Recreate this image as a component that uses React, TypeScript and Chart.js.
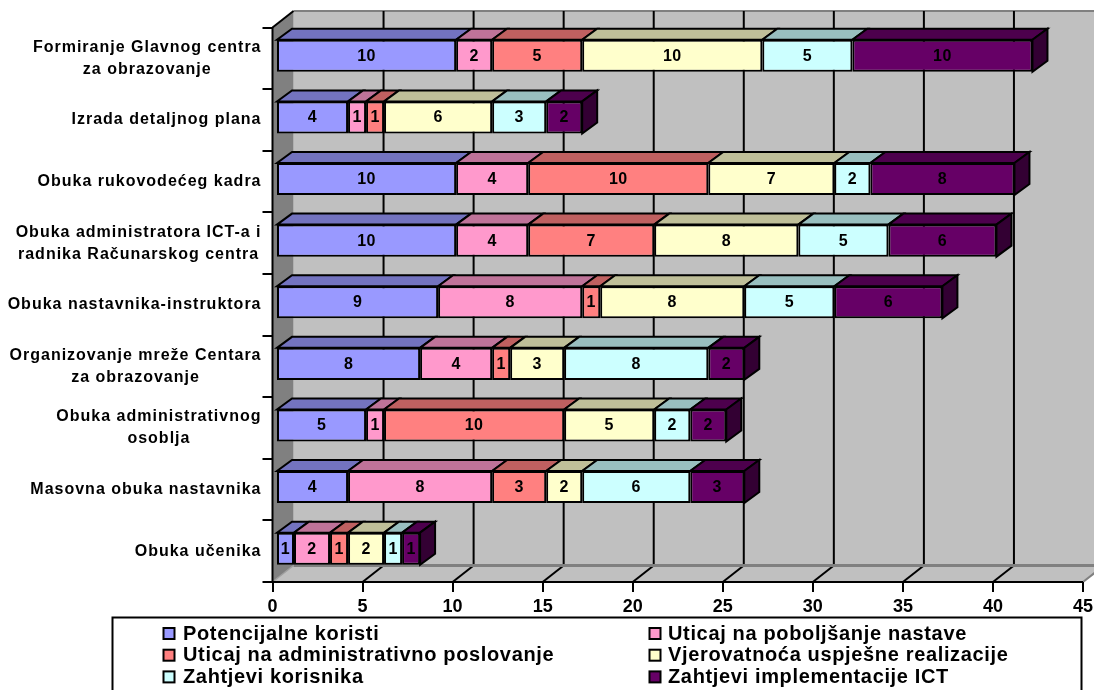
import React, { useEffect, useRef } from "react";
import { Chart, registerables } from "chart.js";

Chart.register(...registerables);

const categories: string[][] = [
  ["Formiranje Glavnog centra", "za obrazovanje"],
  ["Izrada detaljnog plana"],
  ["Obuka rukovodećeg kadra"],
  ["Obuka administratora ICT-a i", "radnika Računarskog centra"],
  ["Obuka nastavnika-instruktora"],
  ["Organizovanje mreže Centara", "za obrazovanje"],
  ["Obuka administrativnog", "osoblja"],
  ["Masovna obuka nastavnika"],
  ["Obuka učenika"],
];

const potencijalneKoristi = [10, 4, 10, 10, 9, 8, 5, 4, 1];
const uticajNaNastavu = [2, 1, 4, 4, 8, 4, 1, 8, 2];
const uticajNaPoslovanje = [5, 1, 10, 7, 1, 1, 10, 3, 1];
const vjerovatnoca = [10, 6, 7, 8, 8, 3, 5, 2, 2];
const zahtjeviKorisnika = [5, 3, 2, 5, 5, 8, 2, 6, 1];
const zahtjeviICT = [10, 2, 8, 6, 6, 2, 2, 3, 1];

const seriesNames = [
  "Potencijalne koristi",
  "Uticaj na poboljšanje nastave",
  "Uticaj na administrativno poslovanje",
  "Vjerovatnoća uspješne realizacije",
  "Zahtjevi korisnika",
  "Zahtjevi implementacije ICT",
];
const seriesValues = [potencijalneKoristi, uticajNaNastavu, uticajNaPoslovanje, vjerovatnoca, zahtjeviKorisnika, zahtjeviICT];
const seriesColors = ["#9999FF", "#FF99CC", "#FF8080", "#FFFFCC", "#CCFFFF", "#660066"];
const topColors = ["#7373BF", "#BF7399", "#BF6060", "#BFBF99", "#99BFBF", "#4D004D"];
const sideColors = ["#4D4D80", "#804D66", "#804040", "#808066", "#668080", "#330033"];

const FONT = '"Liberation Sans", Arial, sans-serif';
const WALL_DX = 21;
const WALL_DY = -16.5;
const BAR_DX = 3.5;
const BAR_DY = -2.5;
const FACE_DX = 15;
const FACE_DY = -11;

const poly = (ctx: CanvasRenderingContext2D, pts: number[][], fill?: string, stroke?: string, lw = 2) => {
  ctx.beginPath();
  pts.forEach((p, i) => (i ? ctx.lineTo(p[0], p[1]) : ctx.moveTo(p[0], p[1])));
  ctx.closePath();
  if (fill) { ctx.fillStyle = fill; ctx.fill(); }
  if (stroke) { ctx.strokeStyle = stroke; ctx.lineWidth = lw; ctx.stroke(); }
};

const line = (ctx: CanvasRenderingContext2D, x0: number, y0: number, x1: number, y1: number, color: string, lw: number) => {
  ctx.beginPath();
  ctx.moveTo(x0, y0);
  ctx.lineTo(x1, y1);
  ctx.strokeStyle = color;
  ctx.lineWidth = lw;
  ctx.stroke();
};

const scene3d = {
  id: "scene3d",
  beforeDraw(chart: any) {
    const { ctx, chartArea: a, scales } = chart;
    const { left: l, right: r, top: t, bottom: b } = a;
    ctx.save();
    ctx.fillStyle = "#C0C0C0";
    ctx.fillRect(l + WALL_DX, t + WALL_DY, r - l, b - t);
    line(ctx, l + WALL_DX, t + WALL_DY, r + WALL_DX, t + WALL_DY, "#808080", 2);
    poly(ctx, [[l, b], [r, b], [r + WALL_DX, b + WALL_DY], [l + WALL_DX, b + WALL_DY]], "#C0C0C0");
    poly(ctx, [[l, t], [l + WALL_DX, t + WALL_DY], [l + WALL_DX, b + WALL_DY], [l, b]], "#808080");
    scales.x.ticks.forEach((tk: any) => {
      const x = scales.x.getPixelForValue(tk.value);
      if (tk.value > 0 && tk.value < 45) {
        line(ctx, x + WALL_DX, t + WALL_DY, x + WALL_DX, b + WALL_DY, "#000000", 2);
        line(ctx, x, b, x + WALL_DX, b + WALL_DY, "#000000", 2);
      }
    });
    line(ctx, l + WALL_DX, b + WALL_DY, r + WALL_DX, b + WALL_DY, "#808080", 3);
    line(ctx, r, b, r + WALL_DX, b + WALL_DY, "#808080", 2);
    line(ctx, l, b, l + WALL_DX, b + WALL_DY, "#A0A0A0", 1.5);
    line(ctx, l, t, l + WALL_DX, t + WALL_DY, "#000000", 2);
    line(ctx, l, t, l, b, "#000000", 2);
    line(ctx, l, b, r, b, "#000000", 2);
    ctx.restore();
  },
  beforeDatasetsDraw(chart: any) {
    const { ctx } = chart;
    ctx.save();
    ctx.translate(BAR_DX, BAR_DY);
    chart.data.datasets.forEach((_: any, d: number) => {
      chart.getDatasetMeta(d).data.forEach((bar: any) => {
        const { x, y, base, height } = bar.getProps(["x", "y", "base", "height"], true);
        const top = y - height / 2;
        const bottom = y + height / 2;
        poly(ctx, [[base, top], [x, top], [x + FACE_DX, top + FACE_DY], [base + FACE_DX, top + FACE_DY]], topColors[d], "#000000");
        if (d === chart.data.datasets.length - 1) {
          poly(ctx, [[x, top], [x + FACE_DX, top + FACE_DY], [x + FACE_DX, bottom + FACE_DY], [x, bottom]], sideColors[d], "#000000");
        }
      });
    });
  },
  afterDatasetsDraw(chart: any) {
    const { ctx } = chart;
    ctx.font = `bold 16px ${FONT}`;
    (ctx as any).letterSpacing = "0.4px";
    ctx.fillStyle = "#000000";
    ctx.textAlign = "center";
    ctx.textBaseline = "middle";
    chart.data.datasets.forEach((ds: any, d: number) => {
      chart.getDatasetMeta(d).data.forEach((bar: any, i: number) => {
        const { x, y, base } = bar.getProps(["x", "y", "base"], true);
        ctx.fillText(String(ds.data[i]), (x + base) / 2, y + 0.5);
      });
    });
    ctx.restore();
  },
  afterDraw(chart: any) {
    const { ctx, scales } = chart;
    ctx.save();
    ctx.font = `bold 16px ${FONT}`;
    (ctx as any).letterSpacing = "1px";
    ctx.fillStyle = "#000000";
    ctx.textBaseline = "middle";
    ctx.textAlign = "center";
    categories.forEach((lines, i) => {
      const cy = scales.y.getPixelForValue(i);
      const w = Math.max(...lines.map((s) => ctx.measureText(s).width));
      const cx = 261.5 - w / 2;
      lines.forEach((s, k) => ctx.fillText(s, cx, cy + (k - (lines.length - 1) / 2) * 22));
    });
    ctx.strokeStyle = "#000000";
    ctx.lineWidth = 2;
    ctx.strokeRect(112.5, 617.5, 969, 80);
    ctx.font = `bold 20px ${FONT}`;
    (ctx as any).letterSpacing = "0.65px";
    ctx.textAlign = "left";
    seriesNames.forEach((name, i) => {
      const col = i % 2;
      const row = Math.floor(i / 2);
      const yy = 633.5 + row * 21.7;
      const sx = col ? 649.5 : 163.5;
      ctx.fillStyle = seriesColors[i];
      ctx.fillRect(sx, yy - 5.5, 11, 11);
      ctx.strokeStyle = "#000000";
      ctx.lineWidth = 2;
      ctx.strokeRect(sx, yy - 5.5, 11, 11);
      ctx.fillStyle = "#000000";
      ctx.fillText(name, col ? 668 : 183, yy + 0.5);
    });
    ctx.restore();
  },
};

export default function App() {
  const ref = useRef<HTMLCanvasElement>(null);
  useEffect(() => {
    const chart = new Chart(ref.current as HTMLCanvasElement, {
      type: "bar",
      data: {
        labels: categories.map((c) => c.join(" ")),
        datasets: seriesNames.map((label, i) => ({
          label,
          data: seriesValues[i],
          backgroundColor: seriesColors[i],
          borderColor: "#000000",
          borderWidth: 2,
          borderSkipped: false,
          clip: false,
        })),
      } as any,
      options: {
        indexAxis: "y",
        animation: false,
        responsive: false,
        devicePixelRatio: 1,
        barPercentage: 0.52,
        categoryPercentage: 1,
        layout: { padding: { top: 27.5, right: 11, left: 0, bottom: 0 } },
        plugins: { legend: { display: false }, tooltip: { enabled: false } },
        scales: {
          x: {
            type: "linear",
            stacked: true,
            min: 0,
            max: 45,
            afterFit: (s: any) => { s.height = 108; s.paddingRight = 0; s.paddingLeft = 0; },
            grid: { drawOnChartArea: false, color: "#000000", lineWidth: 2, tickLength: 10 },
            border: { display: false },
            ticks: { stepSize: 5, maxRotation: 0, autoSkip: false, padding: 4, color: "#000000", font: { family: FONT, weight: "bold", size: 18 } },
          },
          y: {
            type: "category",
            stacked: true,
            afterFit: (s: any) => { s.width = 272.5; },
            grid: { drawOnChartArea: false, color: "#000000", lineWidth: 2, tickLength: 10 },
            border: { display: false },
            ticks: { display: false },
          },
        },
      } as any,
      plugins: [scene3d],
    });
    return () => chart.destroy();
  }, []);
  return (
    <div style={{ position: "fixed", left: 0, top: 0, width: 1094, height: 690, background: "#FFFFFF", overflow: "hidden" }}>
      <canvas ref={ref} width={1094} height={690} style={{ display: "block" }} />
    </div>
  );
}
